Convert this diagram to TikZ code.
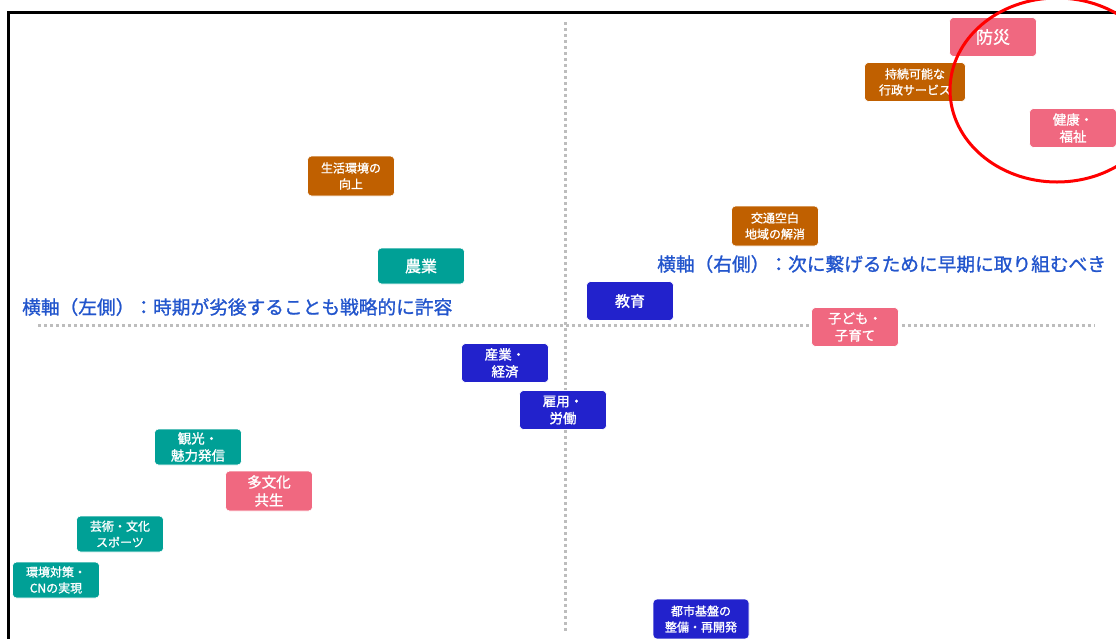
\documentclass[tikz,border=0pt]{standalone}
\usepackage{fontspec}
\setmainfont{Noto Sans CJK JP}[AutoFakeBold=1.2]
\usetikzlibrary{positioning}

\definecolor{themePink}{HTML}{F06880}
\definecolor{themeBrown}{HTML}{C06000}
\definecolor{themeTeal}{HTML}{00A096}
\definecolor{themeBlue}{HTML}{2222CC}
\definecolor{axisBlue}{HTML}{2255CC}
\definecolor{axisGray}{HTML}{BDBDBD}

\tikzset{
  theme/.style={rounded corners=4pt, minimum width=87pt, minimum height=39pt,
    inner sep=1pt, align=center, text=white, draw=white, line width=0.6pt,
    font=\fontsize{12}{16}\selectfont\bfseries},
  pinktheme/.style={theme, fill=themePink},
  browntheme/.style={theme, fill=themeBrown},
  tealtheme/.style={theme, fill=themeTeal, minimum height=36pt},
  bluetheme/.style={theme, fill=themeBlue},
  midtext/.style={font=\fontsize{13.5}{17}\selectfont\bfseries},
  bigtext/.style={font=\fontsize{16}{18}\selectfont\bfseries},
  axislabel/.style={anchor=west, inner sep=0pt, text=axisBlue,
    font=\fontsize{18.7}{21}\selectfont\bfseries},
  axisline/.style={axisGray, line width=3pt, dash pattern=on 3pt off 3pt}
}

\begin{document}
\begin{tikzpicture}[x=1pt, y=-1pt]
  \useasboundingbox (0,0) rectangle (1116,638);

  % frame
  \draw[line width=3pt] (8,700) -- (8,12) -- (1130,12);

  % axes
  \coordinate (axL) at (38,325);
  \coordinate (axR) at (1095,325);
  \coordinate (axT) at (565,22);
  \coordinate (axB) at (565,632);
  \draw[axisline] (axL) -- (axR);
  \draw[axisline] (axT) -- (axB);

  \node[axislabel] (leftlabel) at (22,307) {横軸（左側）：時期が劣後することも戦略的に許容};
  \node[axislabel] (rightlabel) at (657,264) {横軸（右側）：次に繋げるために早期に取り組むべき};

  % themes
  \node[pinktheme, font=\fontsize{17}{19}\selectfont\bfseries] (bousai) at (993,37) {防災};
  \node[browntheme, minimum width=101pt] (gyousei) at (915,82) {持続可能な\\行政サービス};
  \node[pinktheme, midtext] (kenkou) at (1073,128) {健康・\\福祉};
  \node[browntheme, minimum height=40pt] (seikatsu) at (351,176) {生活環境の\\向上};
  \node[tealtheme, bigtext] (nougyou) at (421,266) {農業};
  \node[browntheme, minimum height=40pt] (koutsuu) at (775,226) {交通空白\\地域の解消};
  \node[bluetheme, font=\fontsize{15}{17}\selectfont\bfseries] (kyouiku) at (630,301) {教育};
  \node[pinktheme, midtext] (kodomo) at (855,327) {子ども・\\子育て};
  \node[bluetheme, midtext] (sangyou) at (505,363) {産業・\\経済};
  \node[bluetheme, midtext] (koyou) at (563,410) {雇用・\\労働};
  \node[tealtheme, midtext] (kankou) at (198,447) {観光・\\魅力発信};
  \node[pinktheme, font=\fontsize{14.5}{18}\selectfont\bfseries, minimum height=40pt] (tabunka) at (269,491) {多文化\\共生};
  \node[tealtheme] (geijutsu) at (120,534) {芸術・文化\\スポーツ};
  \node[tealtheme] (kankyou) at (56,580) {環境対策・\\CNの実現};
  \node[bluetheme, minimum width=96pt, minimum height=40pt] (toshi) at (701,619) {都市基盤の\\整備・再開発};

  % highlight
  \draw[red, line width=3pt] (1057,90) ellipse [x radius=107, y radius=92];
\end{tikzpicture}
\end{document}
